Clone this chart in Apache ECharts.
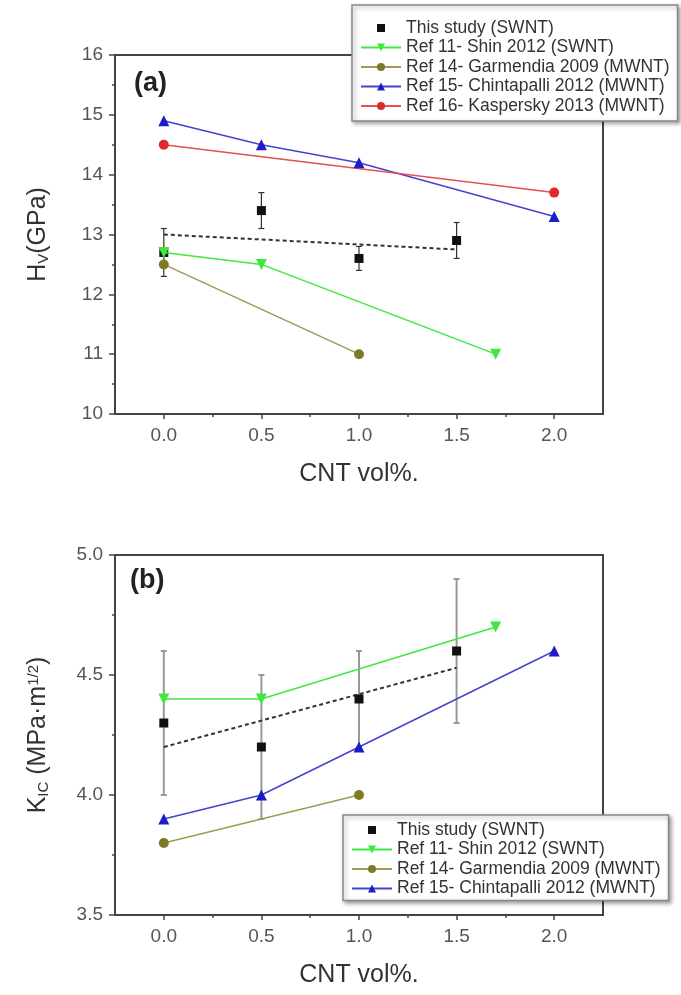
<!DOCTYPE html>
<html>
<head>
<meta charset="utf-8">
<script src="https://cdn.jsdelivr.net/npm/echarts@6/dist/echarts.min.js"></script>
<style>
  html, body { margin: 0; padding: 0; background: #fff; }
  #chart { width: 681px; height: 995px; }
</style>
</head>
<body>
<div id="chart"></div>
<script>
// ---- data ----
const xTicks = [0, 0.5, 1.0, 1.5, 2.0];
const xMinorTicks = [0.25, 0.75, 1.25, 1.75];

const xThis = [0, 0.5, 1.0, 1.5];
const hvThis = [12.7, 13.4, 12.6, 12.9];
const hvThisErr = [0.4, 0.3, 0.2, 0.3];
const hvFitX = [0, 1.5];
const hvFit = [13.0, 12.75];
const hvShinX = [0, 0.5, 1.7];
const hvShin = [12.7, 12.5, 11.0];
const hvGarmX = [0, 1.0];
const hvGarm = [12.5, 11.0];
const hvChinX = [0, 0.5, 1.0, 2.0];
const hvChin = [14.9, 14.5, 14.2, 13.3];
const hvKaspX = [0, 2.0];
const hvKasp = [14.5, 13.7];

const kThis = [4.3, 4.2, 4.4, 4.6];
const kThisErr = [0.3, 0.3, 0.2, 0.3];
const kFitX = [0, 1.5];
const kFit = [4.2, 4.53];
const kShinX = [0, 0.5, 1.7];
const kShin = [4.4, 4.4, 4.7];
const kGarmX = [0, 1.0];
const kGarm = [3.8, 4.0];
const kChinX = [0, 0.5, 1.0, 2.0];
const kChin = [3.9, 4.0, 4.2, 4.6];

const names = [
  "This study (SWNT)",
  "Ref 11- Shin 2012 (SWNT)",
  "Ref 14- Garmendia 2009 (MWNT)",
  "Ref 15- Chintapalli 2012 (MWNT)",
  "Ref 16- Kaspersky 2013 (MWNT)"
];

const FONT = "'Liberation Sans', Arial, sans-serif";
const GREEN = "#3fe83f", OLIVE = "#7d7a26", BLUE = "#1c1cc8", RED = "#dd2a2a";

function zip(xs, ys) {
  return xs.map((x, i) => [x, ys[i]]);
}
function errData(xs, ys, es) {
  return xs.map((x, i) => [x, ys[i] - es[i], ys[i] + es[i]]);
}
function errRender(color, width) {
  return function (params, api) {
    const x = api.value(0);
    const lo = api.coord([x, api.value(1)]);
    const hi = api.coord([x, api.value(2)]);
    const st = { stroke: color, lineWidth: width };
    return {
      type: "group",
      children: [
        { type: "line", shape: { x1: lo[0], y1: lo[1], x2: hi[0], y2: hi[1] }, style: st },
        { type: "line", shape: { x1: lo[0] - 3, y1: lo[1], x2: lo[0] + 3, y2: lo[1] }, style: st },
        { type: "line", shape: { x1: hi[0] - 3, y1: hi[1], x2: hi[0] + 3, y2: hi[1] }, style: st }
      ]
    };
  };
}

function mainX(grid) {
  return {
    type: "value", gridIndex: grid, min: -0.25, max: 2.25,
    name: "CNT vol%.", nameLocation: "middle", nameGap: 48,
    nameTextStyle: { fontFamily: FONT, fontSize: 25, color: "#333" },
    axisLine: { show: true, onZero: false, lineStyle: { color: "#444", width: 2 } },
    axisTick: { show: true, length: 5, customValues: xTicks, lineStyle: { color: "#444", width: 1.5 } },
    axisLabel: { customValues: xTicks, margin: 12, fontFamily: FONT, fontSize: 19, color: "#555",
      formatter: v => v.toFixed(1) },
    splitLine: { show: false }
  };
}
function minorX(grid) {
  return {
    type: "value", gridIndex: grid, min: -0.25, max: 2.25, position: "bottom",
    axisLine: { show: false, onZero: false },
    axisTick: { show: true, length: 3, customValues: xMinorTicks, lineStyle: { color: "#444", width: 1.5 } },
    axisLabel: { show: false },
    splitLine: { show: false }
  };
}
function yAxis(grid, min, max, interval, digits, name) {
  return {
    type: "value", gridIndex: grid, min: min, max: max, interval: interval,
    name: name, nameLocation: "middle", nameGap: 64, nameRotate: 90,
    nameTextStyle: {
      fontFamily: FONT, color: "#333",
      rich: {
        m: { fontFamily: FONT, fontSize: 25, color: "#333" },
        s: { fontFamily: FONT, fontSize: 15, color: "#333", verticalAlign: "bottom" },
        p: { fontFamily: FONT, fontSize: 15, color: "#333", verticalAlign: "top" }
      }
    },
    axisLine: { show: true, onZero: false, lineStyle: { color: "#444", width: 2 } },
    axisTick: { show: true, length: 6, lineStyle: { color: "#444", width: 1.5 } },
    minorTick: { show: true, splitNumber: 2, length: 3, lineStyle: { color: "#444", width: 1.5 } },
    axisLabel: { margin: 12, fontFamily: FONT, fontSize: 19, color: "#555",
      formatter: v => v.toFixed(digits) },
    splitLine: { show: false }
  };
}
function lineSeries(name, data, color, symbol, size, xi, lineColor, rotate) {
  return {
    name: name, type: "line", xAxisIndex: xi, yAxisIndex: xi / 2,
    data: data, symbol: symbol, symbolSize: size, symbolRotate: rotate || 0, z: 3,
    itemStyle: { color: color },
    lineStyle: { color: lineColor || color, width: 1.5 },
    emphasis: { disabled: true }
  };
}
function thisStudy(data, xi, z) {
  // points only; the fit is drawn separately
  return {
    name: names[0], type: "line", xAxisIndex: xi, yAxisIndex: xi / 2,
    data: data, symbol: "rect", symbolSize: 9, z: z,
    itemStyle: { color: "#111" },
    lineStyle: { width: 0, opacity: 0 },
    emphasis: { disabled: true }
  };
}
function legendBox(left, top, pad, items) {
  return {
    orient: "vertical", left: left, top: top, data: items,
    itemWidth: 40, itemHeight: 10, itemGap: 1.5, padding: pad,
    backgroundColor: "#fff", borderColor: "#888", borderWidth: 1.5,
    shadowColor: "rgba(0,0,0,0.35)", shadowBlur: 4, shadowOffsetX: 2, shadowOffsetY: 2,
    textStyle: { fontFamily: FONT, fontSize: 17.5, color: "#333" },
    selectedMode: false, z: 10
  };
}

const chart = echarts.init(document.getElementById("chart"), null, { renderer: "canvas" });
chart.setOption({
  animation: false,
  backgroundColor: "#fff",
  title: [
    { text: "(a)", left: 134, top: 70, padding: 0,
      textStyle: { fontFamily: FONT, fontSize: 27, fontWeight: "bold", color: "#222" } },
    { text: "(b)", left: 130, top: 567, padding: 0,
      textStyle: { fontFamily: FONT, fontSize: 27, fontWeight: "bold", color: "#222" } }
  ],
  grid: [
    { left: 115, top: 55, width: 488, height: 359, show: true, borderColor: "#444", borderWidth: 2 },
    { left: 115, top: 555, width: 488, height: 360, show: true, borderColor: "#444", borderWidth: 2 }
  ],
  legend: [
    legendBox(352, 5, [14, 8, 6, 8], names),
    legendBox(343, 815, [6, 8, 3, 8], names.slice(0, 4))
  ],
  xAxis: [mainX(0), minorX(0), mainX(1), minorX(1)],
  yAxis: [
    yAxis(0, 10, 16, 1, 0, "{m|H}{s|V}{m|(GPa)}"),
    yAxis(1, 3.5, 5.0, 0.5, 1, "{m|K}{s|IC}{m| (MPa·m}{p|1/2}{m|)}")
  ],
  series: [
    // panel (a)
    { name: "errA", type: "custom", xAxisIndex: 0, yAxisIndex: 0, z: 2,
      data: errData(xThis, hvThis, hvThisErr), renderItem: errRender("#333", 1.2) },
    { name: "fitA", type: "line", xAxisIndex: 0, yAxisIndex: 0, data: zip(hvFitX, hvFit),
      symbol: "none", lineStyle: { color: "#333", width: 2, type: [4, 3] }, z: 2 },
    thisStudy(zip(xThis, hvThis), 0, 2),
    lineSeries(names[1], zip(hvShinX, hvShin), GREEN, "triangle", 11, 0, null, 180),
    lineSeries(names[2], zip(hvGarmX, hvGarm), OLIVE, "circle", 10, 0, "#a09a55"),
    lineSeries(names[3], zip(hvChinX, hvChin), BLUE, "triangle", 11, 0, "#4444cc"),
    lineSeries(names[4], zip(hvKaspX, hvKasp), RED, "circle", 10, 0, "#e55050"),
    // panel (b)
    { name: "errB", type: "custom", xAxisIndex: 2, yAxisIndex: 1, z: 2,
      data: errData(xThis, kThis, kThisErr), renderItem: errRender("#999", 2) },
    { name: "fitB", type: "line", xAxisIndex: 2, yAxisIndex: 1, data: zip(kFitX, kFit),
      symbol: "none", lineStyle: { color: "#333", width: 2, type: [4, 3] }, z: 2 },
    thisStudy(zip(xThis, kThis), 2, 4),
    lineSeries(names[1], zip(kShinX, kShin), GREEN, "triangle", 11, 2, null, 180),
    lineSeries(names[2], zip(kGarmX, kGarm), OLIVE, "circle", 10, 2, "#a09a55"),
    lineSeries(names[3], zip(kChinX, kChin), BLUE, "triangle", 11, 2, "#4444cc")
  ]
});
</script>
</body>
</html>
